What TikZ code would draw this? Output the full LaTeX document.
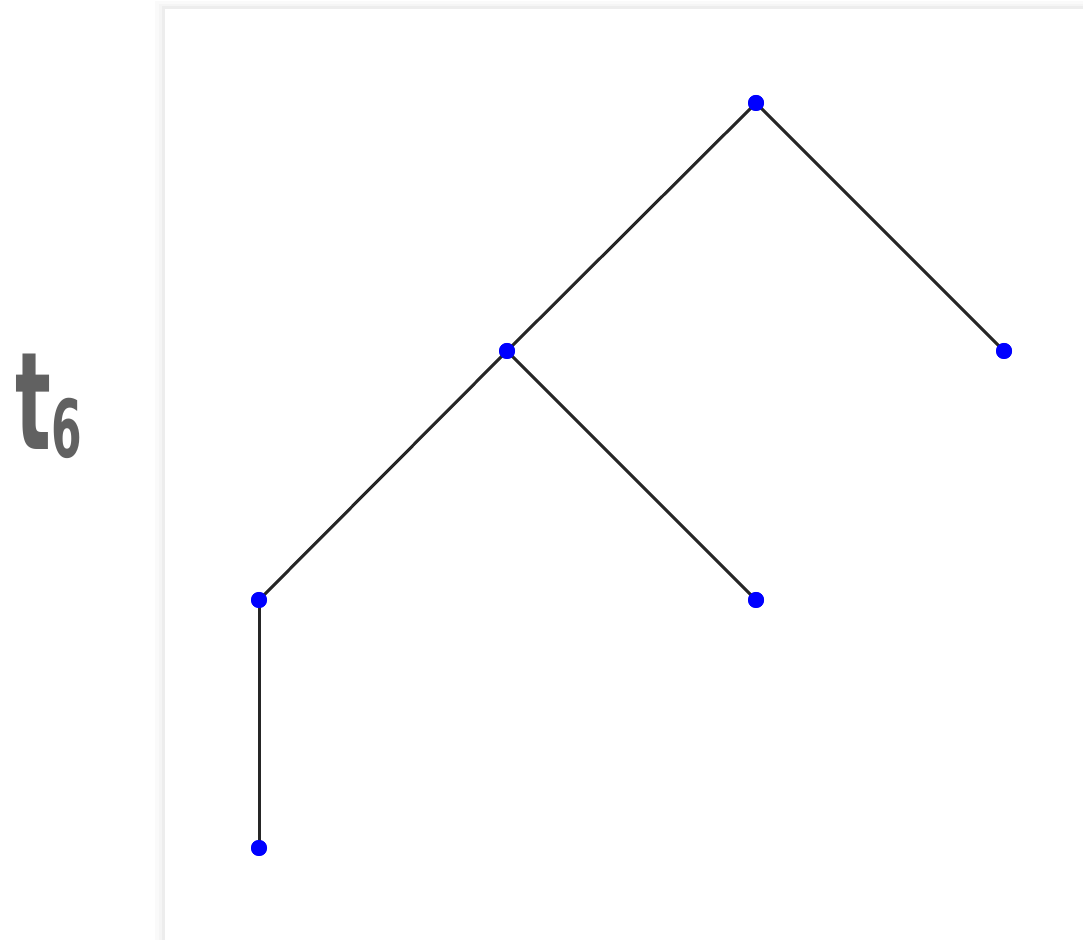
\documentclass[tikz,border=0pt]{standalone}
\usepackage{fontspec}
\newfontfamily\labelfont{DejaVu Sans}
\begin{document}
\begin{tikzpicture}[x=0.5pt,y=-0.5pt,
  dot/.style={circle,fill=blue,inner sep=0pt,minimum size=8pt},
  edge/.style={draw=black!85,line width=1.5pt},
  lab/.style={text=black!62,inner sep=0pt,anchor=base west}]
\useasboundingbox (0,0) rectangle (1083,940);
\fill[white] (0,0) rectangle (1083,940);
% panel shadow
\fill[black!2] (155,1) rectangle (1083,940);
\fill[black!4] (159,4) rectangle (1083,940);
\fill[black!7] (162,6) rectangle (1083,940);
\fill[white] (165,9) rectangle (1083,940);
% nodes
\node[dot] (r) at (756,103) {};
\node[dot] (a) at (507,351) {};
\node[dot] (b) at (1004,351) {};
\node[dot] (c) at (259,600) {};
\node[dot] (d) at (756,600) {};
\node[dot] (e) at (259,848) {};
\draw[edge] (r.center) -- (a.center);
\draw[edge] (r.center) -- (b.center);
\draw[edge] (a.center) -- (c.center);
\draw[edge] (a.center) -- (d.center);
\draw[edge] (c.center) -- (e.center);
\foreach \n in {r,a,b,c,d,e} \fill[blue] (\n) circle (8);
% label
\node[lab] (t) at (15,450) {\scalebox{0.55}[1]{\labelfont\bfseries\fontsize{68}{68}\selectfont t\kern0.5pt\raisebox{-4pt}{\fontsize{40}{40}\selectfont 6}}};
\end{tikzpicture}
\end{document}
